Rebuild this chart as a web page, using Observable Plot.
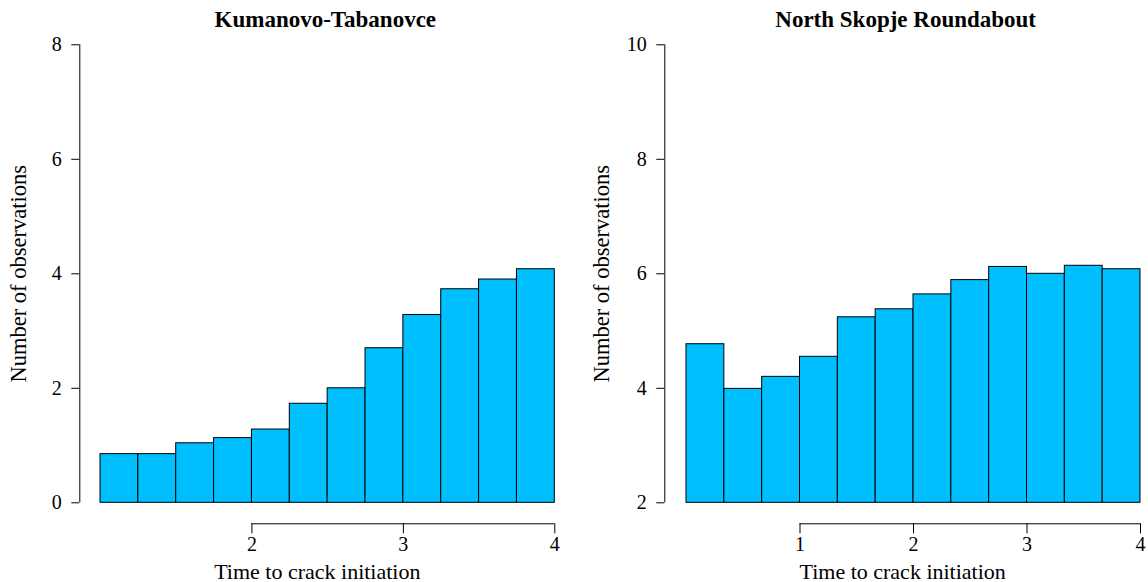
<!DOCTYPE html>
<html>
<head>
<meta charset="utf-8">
<script src="https://cdn.jsdelivr.net/npm/d3@7"></script>
<script src="https://cdn.jsdelivr.net/npm/@observablehq/plot@0.6"></script>
<style>
  html, body { margin: 0; padding: 0; background: white; }
  #wrap { position: relative; width: 1148px; height: 582px; display: flex; }
  #wrap svg { display: block; }
  #wrap svg text { font-family: 'Liberation Serif', 'Times New Roman', serif !important; font-variant: normal !important; }
</style>
</head>
<body>
<div id="wrap"></div>
<script>
// ---------- Data ----------
const kumanovoTitle = "Kumanovo-Tabanovce";
const kumanovoBinStarts = [1.00, 1.25, 1.50, 1.75, 2.00, 2.25, 2.50, 2.75, 3.00, 3.25, 3.50, 3.75];
const kumanovoBinEnds   = [1.25, 1.50, 1.75, 2.00, 2.25, 2.50, 2.75, 3.00, 3.25, 3.50, 3.75, 4.00];
const kumanovoCounts    = [0.85, 0.85, 1.04, 1.13, 1.28, 1.73, 2.00, 2.70, 3.28, 3.73, 3.90, 4.08];
const kumanovoYTicks = [0, 2, 4, 6, 8];
const kumanovoXTicks = [2, 3, 4];

const skopjeTitle = "North Skopje Roundabout";
const skopjeBinStarts = [0, 1/3, 2/3, 1, 4/3, 5/3, 2, 7/3, 8/3, 3, 10/3, 11/3];
const skopjeBinEnds   = [1/3, 2/3, 1, 4/3, 5/3, 2, 7/3, 8/3, 3, 10/3, 11/3, 4];
const skopjeCounts    = [4.77, 3.99, 4.20, 4.55, 5.24, 5.38, 5.64, 5.89, 6.12, 6.00, 6.14, 6.08];
const skopjeYTicks = [2, 4, 6, 8, 10];
const skopjeXTicks = [1, 2, 3, 4];

const xLabel = "Time to crack initiation";
const yLabel = "Number of observations";

// ---------- Drawing ----------
const FONT = "Liberation Serif";
const FILL = "#00BFFF";

function panel({title, starts, ends, counts, yTicks, xTicks, xDomain, yDomain,
                marginLeft, marginRight, titleDx, xLabDx, yLabDx}) {
  const data = counts.map((c, i) => ({x1: starts[i], x2: ends[i], c}));
  return Plot.plot({
    width: 574,
    height: 582,
    marginLeft,
    marginRight,
    marginTop: 44.3,
    marginBottom: 79.7,
    x: {domain: xDomain},
    y: {domain: yDomain},
    style: {fontFamily: FONT, fontSize: "20px", color: "black", background: "white", overflow: "visible"},
    marks: [
      Plot.rectY(data, {x1: "x1", x2: "x2", y1: yDomain[0], y2: "c",
                        fill: FILL, stroke: "black", strokeWidth: 1}),
      // y spine
      Plot.ruleX([xDomain[0]], {y1: yDomain[0], y2: yDomain[1], stroke: "black", strokeWidth: 1}),
      Plot.axisY({ticks: yTicks, tickSize: 8, tickPadding: 10, label: null,
                  fontSize: 20, fill: "black"}),
      // x axis line (first tick to last tick), offset below the plot
      Plot.ruleY([yDomain[0]], {x1: xTicks[0], x2: xTicks[xTicks.length - 1], dy: 21,
                               stroke: "black", strokeWidth: 1}),
      Plot.axisX({ticks: xTicks, tickSize: 10, tickPadding: 3, dy: 21, label: null,
                  tickFormat: d3.format("d"), fontSize: 20, fill: "black"}),
      Plot.text([xLabel], {text: d => d, frameAnchor: "bottom", dy: 69, dx: xLabDx,
                           textAnchor: "middle", lineAnchor: "middle", fontSize: 22, fill: "black"}),
      Plot.text([yLabel], {text: d => d, frameAnchor: "left", rotate: -90, dx: yLabDx,
                           textAnchor: "middle", lineAnchor: "middle", fontSize: 22.5, fill: "black"}),
      Plot.text([title], {text: d => d, frameAnchor: "top", dy: -25, dx: titleDx,
                          textAnchor: "middle", lineAnchor: "middle", fontSize: 23, fontWeight: "bold",
                          fill: "black"})
    ]
  });
}

const wrap = document.getElementById("wrap");
wrap.appendChild(panel({
  title: kumanovoTitle, starts: kumanovoBinStarts, ends: kumanovoBinEnds, counts: kumanovoCounts,
  yTicks: kumanovoYTicks, xTicks: kumanovoXTicks,
  xDomain: [0.8633, 4], yDomain: [0, 8],
  marginLeft: 79.3, marginRight: 19.7, titleDx: 8, xLabDx: 0, yLabDx: -61
}));
wrap.appendChild(panel({
  title: skopjeTitle, starts: skopjeBinStarts, ends: skopjeBinEnds, counts: skopjeCounts,
  yTicks: skopjeYTicks, xTicks: skopjeXTicks,
  xDomain: [-0.1912, 4], yDomain: [2, 10],
  marginLeft: 90.3, marginRight: 8, titleDx: 3, xLabDx: 0, yLabDx: -63
}));
</script>
</body>
</html>
